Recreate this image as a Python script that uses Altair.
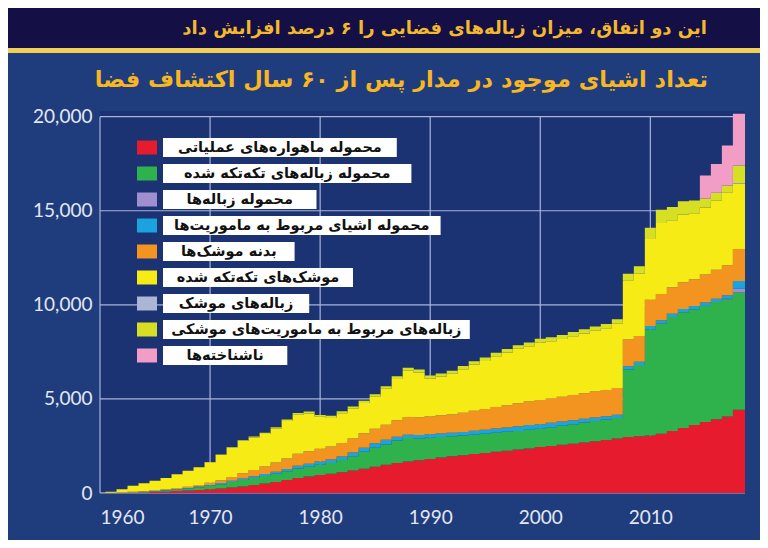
import altair as alt
import pandas as pd

# ---------------- data ----------------
YEARS = list(range(1960, 2019))
X_TICKS = [1960, 1970, 1980, 1990, 2000, 2010]
Y_TICKS = [0, 5000, 10000, 15000, 20000]

LABELS = [
    "محموله ماهواره‌های عملیاتی",
    "محموله زباله‌های تکه‌تکه شده",
    "محموله زباله‌ها",
    "محموله اشیای مربوط به ماموریت‌ها",
    "بدنه موشک‌ها",
    "موشک‌های تکه‌تکه شده",
    "زباله‌های موشک",
    "زباله‌های مربوط به ماموریت‌های موشکی",
    "ناشناخته‌ها",
]
COLORS = ["#e61b2e", "#2fb24c", "#a08fcf", "#1aa3dc", "#f39320",
          "#f6eb14", "#aab6d4", "#d6df24", "#f19dc6"]

TITLE = "تعداد اشیای موجود در مدار پس از ۶۰ سال اکتشاف فضا"
SUBTITLE = "این دو اتفاق، میزان زباله‌های فضایی را ۶ درصد افزایش داد"

PL = [0, 2, 5, 15, 30, 50, 70, 100, 130, 160,
      200, 240, 290, 340, 420, 500, 590, 690, 800, 880,
      950, 1020, 1100, 1190, 1290, 1400, 1500, 1590, 1670, 1740,
      1810, 1880, 1950, 2010, 2070, 2130, 2190, 2250, 2310, 2370,
      2440, 2500, 2560, 2620, 2690, 2750, 2820, 2900, 2980, 3020,
      3060, 3150, 3300, 3460, 3620, 3770, 3920, 4070, 4430]
PF = [0, 0, 5, 10, 20, 35, 50, 70, 100, 140,
      180, 230, 290, 350, 380, 400, 430, 460, 500, 520,
      550, 580, 650, 760, 900, 1000, 1080, 1200, 1250, 1160,
      1130, 1100, 1070, 1040, 1030, 1020, 1010, 1000, 990, 990,
      980, 1000, 1020, 1040, 1050, 1070, 1080, 1080, 3580, 3780,
      5640, 5850, 6050, 6140, 6140, 6180, 6230, 6230, 6220]
PD = [0, 0, 0, 0, 0, 0, 0, 0, 0, 0,
      0, 0, 0, 0, 0, 0, 0, 0, 0, 0,
      0, 0, 0, 0, 0, 0, 0, 0, 0, 0,
      0, 0, 0, 0, 0, 0, 0, 0, 0, 0,
      0, 0, 0, 0, 0, 0, 0, 0, 0, 0,
      0, 0, 0, 0, 0, 0, 0, 30, 200]
PM = [0, 0, 0, 5, 10, 15, 20, 25, 30, 40,
      50, 60, 75, 85, 95, 105, 115, 130, 150, 160,
      170, 175, 185, 200, 220, 240, 250, 200, 180, 180,
      180, 180, 185, 195, 205, 215, 225, 235, 245, 250,
      240, 230, 220, 210, 200, 190, 180, 175, 175, 170,
      170, 175, 175, 175, 175, 175, 175, 175, 420]
RB = [0, 10, 25, 40, 50, 55, 60, 65, 70, 80,
      110, 150, 200, 270, 330, 400, 480, 560, 640, 660,
      680, 700, 720, 740, 760, 780, 800, 880, 940, 950,
      960, 970, 980, 1020, 1060, 1100, 1140, 1180, 1220, 1250,
      1280, 1300, 1320, 1340, 1360, 1380, 1400, 1420, 1420, 1370,
      1400, 1400, 1410, 1420, 1430, 1480, 1540, 1600, 1690]
RF = [10, 58, 165, 310, 410, 495, 600, 740, 850, 950,
      1100, 1350, 1565, 1715, 1725, 1735, 1815, 1980, 2070, 2010,
      1700, 1515, 1585, 1590, 1610, 1700, 1910, 2190, 2460, 2380,
      2010, 2060, 2155, 2315, 2465, 2555, 2705, 2795, 2895, 2940,
      3060, 3040, 3070, 3120, 3180, 3230, 3270, 3415, 3145, 3310,
      3230, 3775, 3565, 3605, 3495, 3565, 3665, 3875, 3470]
RD = [0, 0, 0, 0, 0, 0, 0, 0, 0, 0,
      0, 0, 0, 0, 0, 0, 0, 0, 0, 0,
      0, 0, 0, 0, 0, 0, 0, 0, 0, 0,
      0, 0, 0, 0, 0, 0, 0, 0, 0, 0,
      0, 0, 0, 0, 0, 0, 0, 0, 0, 0,
      0, 0, 0, 0, 0, 0, 0, 20, 50]
RM = [0, 0, 0, 0, 0, 0, 0, 0, 0, 0,
      10, 20, 30, 40, 50, 60, 70, 80, 90, 100,
      100, 110, 110, 120, 120, 130, 130, 140, 150, 150,
      150, 160, 160, 170, 170, 180, 180, 190, 190, 200,
      200, 210, 210, 220, 220, 230, 230, 240, 350, 400,
      600, 700, 700, 700, 680, 480, 420, 340, 920]
UI = [0, 0, 0, 0, 0, 0, 0, 0, 0, 0,
      0, 0, 0, 0, 0, 0, 0, 0, 0, 0,
      0, 0, 0, 0, 0, 0, 0, 0, 0, 0,
      0, 0, 0, 0, 0, 0, 0, 0, 0, 0,
      0, 0, 0, 0, 0, 0, 0, 0, 0, 0,
      0, 0, 0, 0, 0, 1220, 1540, 2130, 2760]

SERIES = [PL, PF, PD, PM, RB, RF, RD, RM, UI]

# ---------------- tables ----------------
rows = []
for i, (lab, vals) in enumerate(zip(LABELS, SERIES)):
    for yr, v in zip(YEARS, vals):
        rows.append({"year": yr, "value": v, "series": lab, "idx": i})
    # closing edge of the last step (clipped at the plot edge)
    rows.append({"year": YEARS[-1] + 1, "value": vals[-1], "series": lab, "idx": i})
df = pd.DataFrame(rows)

X_END = 2018.6
GRID = "#a9b3de"
LABEL_COLOR = "#e3e7f6"
NUM_FONT = "Lato"
FA_FONT = "DejaVu Sans"

xscale = alt.Scale(domain=[1960, X_END], nice=False, zero=False)
yscale = alt.Scale(domain=[0, 20300], nice=False)
xaxis = alt.Axis(values=X_TICKS, labelExpr="format(datum.value, 'd')", title=None,
                 grid=False, domain=False, ticks=False, labelFont=NUM_FONT,
                 labelFontSize=19, labelColor=LABEL_COLOR, labelPadding=15)
yaxis = alt.Axis(values=Y_TICKS, labelExpr="format(datum.value, ',')", title=None,
                 grid=False, domain=False, ticks=False, labelFont=NUM_FONT,
                 labelFontSize=19, labelColor=LABEL_COLOR, labelPadding=8)

hrule = alt.Chart(pd.DataFrame({"value": Y_TICKS})).mark_rule(
    color=GRID, strokeWidth=1.2).encode(
    y=alt.Y("value:Q", scale=yscale, axis=yaxis),
    x=alt.datum(1960), x2=alt.datum(X_END))

vrule = alt.Chart(pd.DataFrame({"year": X_TICKS})).mark_rule(
    color=GRID, strokeWidth=1.2).encode(
    x=alt.X("year:Q", scale=xscale, axis=xaxis),
    y=alt.datum(0), y2=alt.datum(20000))

area = alt.Chart(df).mark_area(interpolate="step", clip=True).encode(
    x=alt.X("year:Q", scale=xscale, axis=xaxis),
    y=alt.Y("value:Q", stack="zero", scale=yscale, axis=yaxis),
    color=alt.Color("series:N", scale=alt.Scale(domain=LABELS, range=COLORS), legend=None),
    order=alt.Order("idx:Q", sort="ascending"),
)

main = alt.layer(hrule, vrule, area)

# ---------------- header decoration ----------------
one = pd.DataFrame({"t": [TITLE], "s": [SUBTITLE]})
band = alt.Chart(one).mark_rect(color="#140f45").encode(
    x=alt.value(-92), x2=alt.value(660), y=alt.value(-103), y2=alt.value(-63))
gold = alt.Chart(one).mark_rect(color="#efcf57").encode(
    x=alt.value(-92), x2=alt.value(660), y=alt.value(-63), y2=alt.value(-58))
title = alt.Chart(one).mark_text(font=FA_FONT, fontWeight="bold", fontSize=22.5,
                                 color="#f8b622", align="right", baseline="middle").encode(
    x=alt.value(608), y=alt.value(-31), text="t:N")
subtitle = alt.Chart(one).mark_text(font=FA_FONT, fontWeight="bold", fontSize=18,
                                    color="#f2b82e", align="right", baseline="middle").encode(
    x=alt.value(607), y=alt.value(-82), text="s:N")

# ---------------- custom legend ----------------
leg_df = pd.DataFrame({"label": LABELS, "color": COLORS, "row": list(range(len(LABELS)))})
leg = alt.Chart(leg_df).transform_calculate(
    cy="36.5 + 26 * datum.row",
    y1="datum.cy - 9.5", y2="datum.cy + 9.5",
    sy1="datum.cy - 7", sy2="datum.cy + 7",
    sx1="37", sx2="57",
    bx1="63", bx2="63 + 7.3 * length(datum.label) + 44",
    tx="(63 + datum.bx2) / 2",
)
boxes = leg.mark_rect(color="white").encode(
    x=alt.X("bx1:Q", scale=None, axis=None), x2="bx2:Q",
    y=alt.Y("y1:Q", scale=None, axis=None), y2="y2:Q")
swatches = leg.mark_rect().encode(
    x=alt.X("sx1:Q", scale=None, axis=None), x2="sx2:Q",
    y=alt.Y("sy1:Q", scale=None, axis=None), y2="sy2:Q",
    color=alt.Color("color:N", scale=None, legend=None))
texts = leg.mark_text(font=FA_FONT, fontWeight="bold", fontSize=14.5, color="#111111",
                      align="center", baseline="middle").encode(
    x=alt.X("tx:Q", scale=None, axis=None),
    y=alt.Y("cy:Q", scale=None, axis=None),
    text="label:N")

chart = alt.layer(main, band, gold, title, subtitle, boxes, swatches, texts).resolve_scale(
    x="independent", y="independent"
).properties(
    width=645, height=382,
    background="#1f3d7c",
    padding={"left": 92, "top": 103, "right": 15, "bottom": 47},
    autosize=alt.AutoSizeParams(type="none"),
).configure_view(fill="#1b3372", stroke=None)

chart.save("out.html", embed_options={"renderer": "svg", "actions": False})
